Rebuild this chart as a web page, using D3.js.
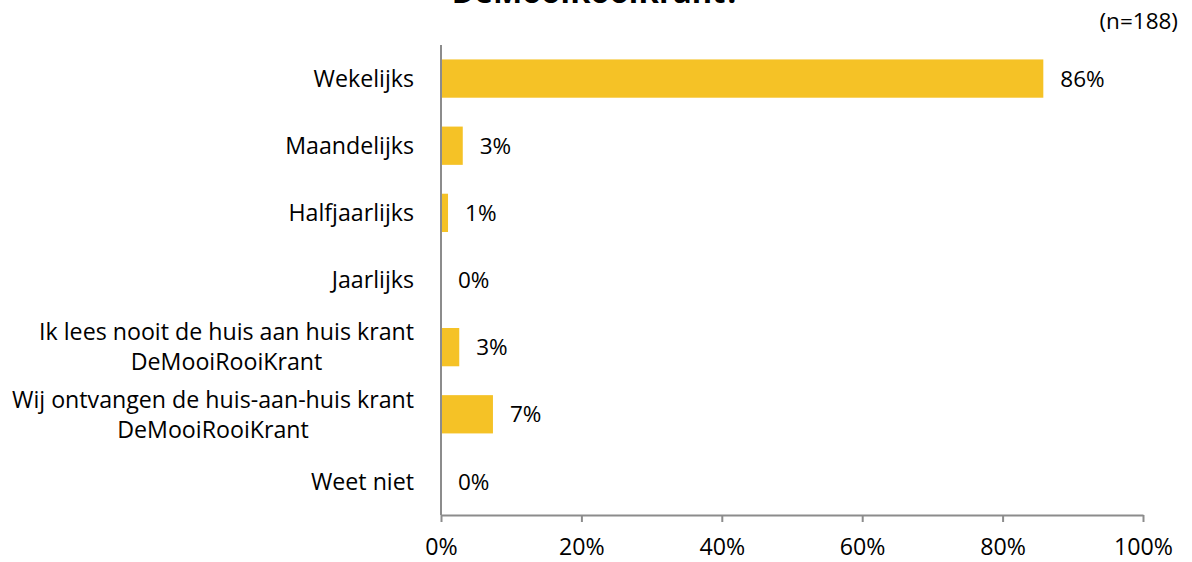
<!DOCTYPE html>
<html><head><meta charset="utf-8">
<script src="https://cdn.jsdelivr.net/npm/d3@7"></script>
<style>body{margin:0;background:#fff}svg{display:block}text{font-family:"Open Sans","Liberation Sans",sans-serif;fill:#000}</style>
</head><body><svg id="c" width="1192" height="562"></svg>
<script>
const categories = ["Wekelijks","Maandelijks","Halfjaarlijks","Jaarlijks","Ik lees nooit de huis aan huis krant|DeMooiRooiKrant","Wij ontvangen de huis-aan-huis krant|DeMooiRooiKrant","Weet niet"];
const values = [85.8, 3.1, 1.0, 0.0, 2.6, 7.4, 0.0];
const valueLabels = ["86%","3%","1%","0%","3%","7%","0%"];
const xTicks = [0,20,40,60,80,100];
const titleText = "DeMooiRooiKrant?";
const nText = "(n=188)";

const svg = d3.select("#c");
const mLeft = 441, mRight = 1143, mTop = 45, mBottom = 515;
const FS = 23.2;
const x = d3.scaleLinear().domain([0,100]).range([mLeft,mRight]);
const y = d3.scaleBand().domain(categories).range([mTop,mBottom]).paddingInner(0.43).paddingOuter(0.215);

svg.append("text").attr("x",596).attr("y",3).attr("text-anchor","middle")
  .style("font-size","31px").style("font-weight","bold").text(titleText);
svg.append("text").attr("x",1178).attr("y",29).attr("text-anchor","end")
  .style("font-size","22.5px").text(nText);

svg.selectAll("rect.bar").data(values).join("rect").attr("class","bar")
  .attr("x",x(0)).attr("y",(d,i)=>y(categories[i]))
  .attr("width",d=>x(d)-x(0)).attr("height",y.bandwidth()).attr("fill","#F5C226");

svg.selectAll("text.val").data(values).join("text").attr("class","val")
  .attr("x",d=>x(d)+17).attr("y",(d,i)=>y(categories[i])+y.bandwidth()/2)
  .attr("dy","0.36em").style("font-size","22.5px").text((d,i)=>valueLabels[i]);

const cat = svg.selectAll("text.cat").data(categories).join("text").attr("class","cat")
  .attr("text-anchor","end").style("font-size",FS+"px");
cat.each(function(c){
  const lines = c.split("|");
  const cy = y(c)+y.bandwidth()/2;
  const t = d3.select(this);
  lines.forEach((l,j)=>{
    t.append("tspan").attr("x",414).attr("y",cy + (j-(lines.length-1)/2)*30).attr("dy","0.36em").text(l);
  });
});
cat.each(function(c){
  const sp = d3.select(this).selectAll("tspan").nodes();
  if(sp.length>1){
    const w0 = sp[0].getComputedTextLength();
    sp.forEach(s=>{const w=s.getComputedTextLength(); d3.select(s).attr("x",414-(w0-w)/2);});
  }
});

const ax = svg.append("g").attr("transform",`translate(0,${mBottom})`)
  .call(d3.axisBottom(x).tickValues(xTicks).tickFormat(d=>d+"%").tickSize(7).tickSizeOuter(0));
ax.attr("font-family",null).attr("font-size",null);
ax.select(".domain").attr("stroke","#8c8c8c").attr("stroke-width",2);
ax.selectAll(".tick line").attr("stroke","#8c8c8c").attr("stroke-width",2);
ax.selectAll(".tick text").style("font-size",FS+"px").attr("y",40).attr("dy",null);
svg.append("line").attr("x1",mLeft).attr("x2",mLeft).attr("y1",mTop).attr("y2",mBottom)
  .attr("stroke","#8c8c8c").attr("stroke-width",2);
</script></body></html>
